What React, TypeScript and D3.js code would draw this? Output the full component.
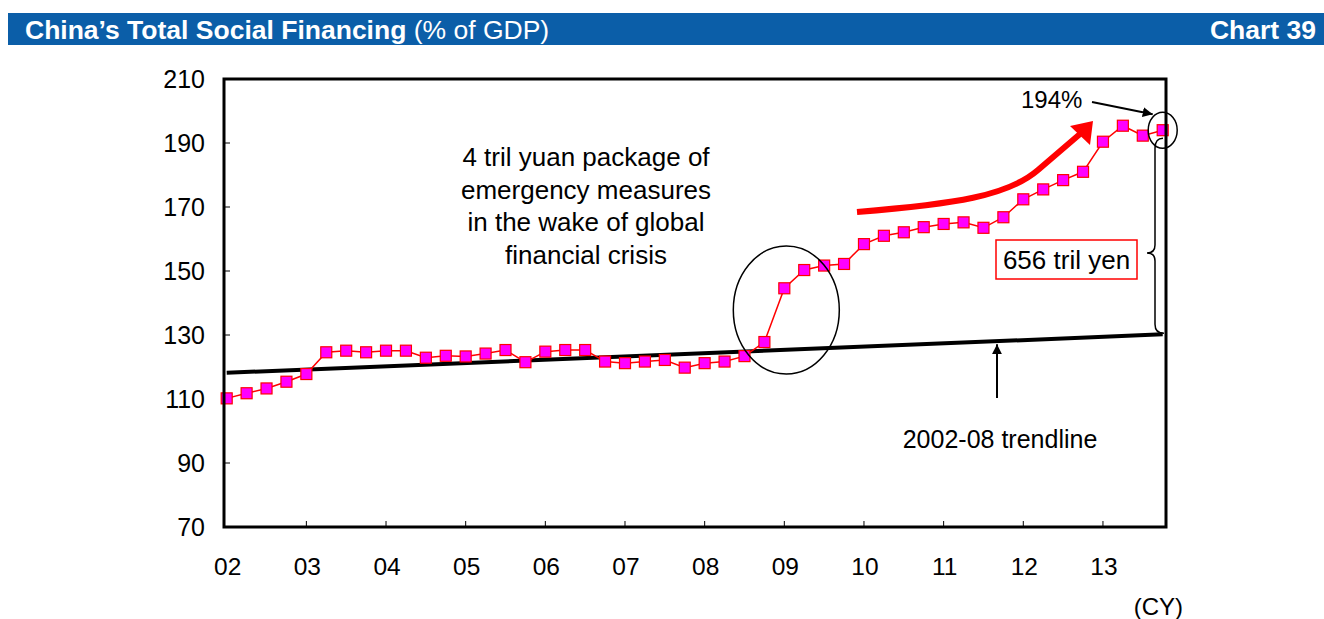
import React, { useEffect, useRef } from "react";
import * as d3 from "d3";

// Total social financing as % of GDP, quarterly 2002Q1 .. 2013Q4
const yearLabels = ["02", "03", "04", "05", "06", "07", "08", "09", "10", "11", "12", "13"];
const tsfRatio = [
  110.2, 111.8, 113.3, 115.4,
  117.8, 124.6, 125.1, 124.6,
  125.1, 125.1, 122.9, 123.5,
  123.3, 124.2, 125.3, 121.5,
  124.8, 125.3, 125.3, 121.7,
  121.2, 121.7, 122.2, 119.8,
  121.2, 121.7, 123.4, 127.8,
  144.6, 150.3, 151.7, 152.2,
  158.4, 161.0, 162.1, 163.7,
  164.7, 165.2, 163.5, 166.8,
  172.4, 175.5, 178.4, 181.0,
  190.4, 195.4, 192.3, 194.0,
];
// 2002-08 linear trend, extended to the end of 2013
const trendIndex = [0, 47];
const trendValue = [118.2, 130.2];
const yTicks = [70, 90, 110, 130, 150, 170, 190, 210];

const W = 1324;
const H = 619;
const FONT = "'Liberation Sans', Arial, Helvetica, sans-serif";

export default function App() {
  const ref = useRef<SVGSVGElement | null>(null);

  useEffect(() => {
    const svg = d3.select(ref.current);
    svg.selectAll("*").remove();

    const x = d3.scaleLinear().domain([0, tsfRatio.length - 1]).range([226.7, 1162.7]);
    const y = d3.scaleLinear().domain([70, 210]).range([527, 79]);
    const frameL = 224, frameR = 1166;

    const defs = svg.append("defs");
    defs.append("marker")
      .attr("id", "blackHead")
      .attr("viewBox", "0 0 10 10")
      .attr("refX", 10).attr("refY", 5)
      .attr("markerWidth", 10).attr("markerHeight", 10)
      .attr("markerUnits", "userSpaceOnUse")
      .attr("orient", "auto")
      .append("path").attr("d", "M0,0 L10,5 L0,10 Z").attr("fill", "#000");

    // Title bar
    svg.append("rect").attr("x", 8).attr("y", 13).attr("width", W - 8).attr("height", 32).attr("fill", "#0b5ea8");
    const title = svg.append("text").attr("x", 25).attr("y", 39)
      .attr("font-family", FONT).attr("font-size", 26.5).attr("fill", "#fff");
    title.append("tspan").attr("font-weight", "bold").text("China’s Total Social Financing");
    title.append("tspan").text(" (% of GDP)");
    svg.append("text").attr("x", 1316).attr("y", 39).attr("text-anchor", "end")
      .attr("font-family", FONT).attr("font-size", 26.5).attr("font-weight", "bold").attr("fill", "#fff")
      .text("Chart 39");

    // Axis ticks (inside the frame)
    const g = svg.append("g");
    yTicks.forEach((t) => {
      g.append("line").attr("x1", frameL).attr("x2", frameL + 6).attr("y1", y(t)).attr("y2", y(t))
        .attr("stroke", "#000").attr("stroke-width", 1);
      g.append("text").attr("x", 205).attr("y", y(t)).attr("dy", "0.36em").attr("text-anchor", "end")
        .attr("font-family", FONT).attr("font-size", 25).text(String(t));
    });
    yearLabels.forEach((lab, k) => {
      const xi = x(k * 4);
      if (k > 0) {
        g.append("line").attr("x1", xi).attr("x2", xi).attr("y1", 527).attr("y2", 521)
          .attr("stroke", "#000").attr("stroke-width", 1);
      }
      g.append("text").attr("x", xi + 1).attr("y", 575).attr("text-anchor", "middle")
        .attr("font-family", FONT).attr("font-size", 24.5).text(lab);
    });
    svg.append("text").attr("x", 1183).attr("y", 615).attr("text-anchor", "end")
      .attr("font-family", FONT).attr("font-size", 24).text("(CY)");

    // Trend line
    svg.append("path")
      .attr("d", d3.line<number>().x((_, i) => x(trendIndex[i])).y((v) => y(v))(trendValue))
      .attr("fill", "none").attr("stroke", "#000").attr("stroke-width", 4);

    // TSF series
    svg.append("path")
      .attr("d", d3.line<number>().x((_, i) => x(i)).y((v) => y(v))(tsfRatio))
      .attr("fill", "none").attr("stroke", "#ff0000").attr("stroke-width", 1.5);
    const ms = 11;
    svg.append("g").selectAll("rect").data(tsfRatio).join("rect")
      .attr("x", (_, i) => x(i) - ms / 2).attr("y", (v) => y(v) - ms / 2)
      .attr("width", ms).attr("height", ms)
      .attr("fill", "#ff00ff").attr("stroke", "#ff0000").attr("stroke-width", 1.2);

    // Plot frame
    svg.append("rect").attr("x", frameL).attr("y", 79).attr("width", frameR - frameL).attr("height", 448)
      .attr("fill", "none").attr("stroke", "#000").attr("stroke-width", 3);

    // Stimulus annotation
    const note = ["4 tril yuan package of", "emergency measures", "in the wake of global", "financial crisis"];
    note.forEach((line, i) => {
      svg.append("text").attr("x", 586).attr("y", 166 + i * 32.5).attr("text-anchor", "middle")
        .attr("font-family", FONT).attr("font-size", 26).text(line);
    });
    svg.append("ellipse").attr("cx", x(28.1)).attr("cy", y(137.8)).attr("rx", 53).attr("ry", 64)
      .attr("fill", "none").attr("stroke", "#000").attr("stroke-width", 1.5);

    // Latest reading
    const last = tsfRatio.length - 1;
    svg.append("ellipse").attr("cx", x(last)).attr("cy", y(tsfRatio[last])).attr("rx", 14.5).attr("ry", 18)
      .attr("fill", "none").attr("stroke", "#000").attr("stroke-width", 1.5);
    svg.append("text").attr("x", 1021).attr("y", 108)
      .attr("font-family", FONT).attr("font-size", 24).text(`${Math.round(tsfRatio[last])}%`);
    svg.append("line").attr("x1", 1092).attr("y1", 102).attr("x2", x(last) - 10).attr("y2", y(tsfRatio[last]) - 16)
      .attr("stroke", "#000").attr("stroke-width", 2).attr("marker-end", "url(#blackHead)");

    // Acceleration arrow
    svg.append("path")
      .attr("d", "M857,212 C955,204 1008,196 1038,170 L1080,134")
      .attr("fill", "none").attr("stroke", "#ff0000").attr("stroke-width", 6);
    svg.append("path").attr("d", "M1093,121 L1070,126 L1090,145 Z").attr("fill", "#ff0000");

    // Gap to trend brace
    const bx = 1155;
    const top = y(tsfRatio[last]) + 8, bottom = y(trendValue[1]) - 1, mid = 253;
    svg.append("path")
      .attr("d", `M${bx + 8},${top} Q${bx},${top} ${bx},${top + 10} L${bx},${mid - 8} Q${bx},${mid} ${bx - 8},${mid} Q${bx},${mid} ${bx},${mid + 8} L${bx},${bottom - 9} Q${bx},${bottom} ${bx + 9},${bottom}`)
      .attr("fill", "none").attr("stroke", "#000").attr("stroke-width", 1.5);
    svg.append("rect").attr("x", 996).attr("y", 240).attr("width", 141).attr("height", 39)
      .attr("fill", "#fff").attr("stroke", "#ff0000").attr("stroke-width", 1.5);
    svg.append("text").attr("x", 1066.5).attr("y", 269).attr("text-anchor", "middle")
      .attr("font-family", FONT).attr("font-size", 26).text("656 tril yen");

    // Trend label
    const ax = 997;
    const trendAt = trendValue[0] + ((trendValue[1] - trendValue[0]) * (x.invert(ax) - trendIndex[0])) / (trendIndex[1] - trendIndex[0]);
    svg.append("line").attr("x1", ax).attr("y1", 398).attr("x2", ax).attr("y2", y(trendAt) + 3)
      .attr("stroke", "#000").attr("stroke-width", 2).attr("marker-end", "url(#blackHead)");
    svg.append("text").attr("x", 1000).attr("y", 448).attr("text-anchor", "middle")
      .attr("font-family", FONT).attr("font-size", 25).text("2002-08 trendline");
  }, []);

  return (
    <svg
      ref={ref}
      width={W}
      height={H}
      style={{ position: "absolute", left: 0, top: 0, background: "#fff", display: "block" }}
    />
  );
}
